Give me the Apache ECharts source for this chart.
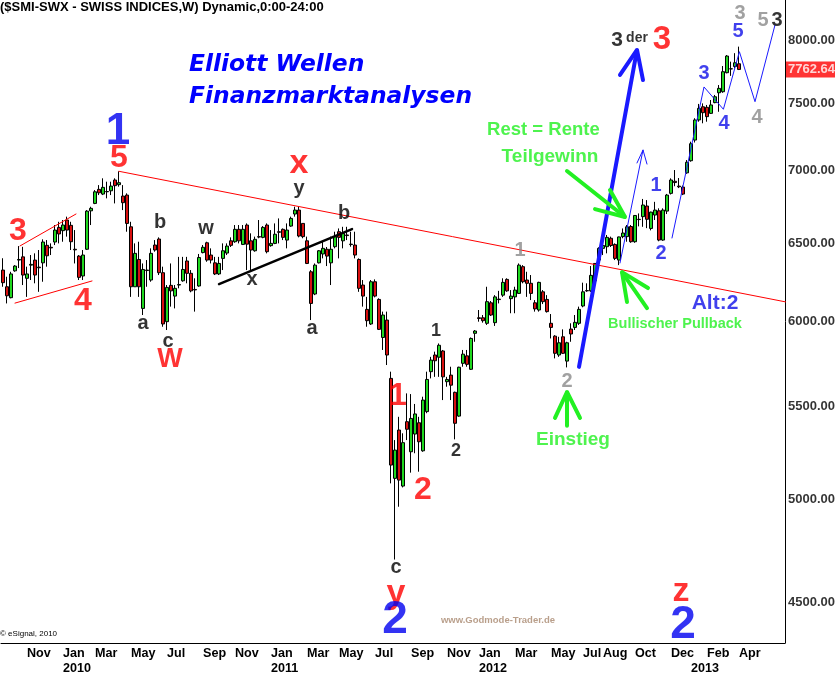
<!DOCTYPE html>
<html><head><meta charset="utf-8">
<script src="https://cdn.jsdelivr.net/npm/echarts@6/dist/echarts.min.js"></script>
<style>html,body{margin:0;padding:0;background:#fff}#c{width:835px;height:675px}</style>
</head><body><div id="c"></div>
<script>
// ---- data ----
const startDate = '2009-09-21';
const weekCount = 196;
const opens = [6323,6216,6147,6318,6388,6409,6270,6355,6388,6342,6370,6485,6472,6507,6605,6583,6655,6619,6459,6414,6285,6459,6718,6769,6867,6834,6850,6857,6933,6900,
6820,6827,6609,6216,6392,6080,6323,6259,6487,6527,6306,5998,6225,6157,6227,6254,6382,6302,6199,6221,6437,6502,6421,6370,6298,6399,6434,6515,6509,6592,
6491,6621,6515,6449,6543,6538,6621,6483,6498,6576,6592,6520,6614,6696,6723,6632,6515,6312,6170,6370,6428,6459,6370,6476,6576,6515,6554,6493,6487,6392,
6227,6074,5984,6248,6136,5902,6008,5660,5110,5369,5070,5415,5251,5347,5409,5256,5471,5699,5797,5784,5821,5641,5679,5580,5446,5748,5792,5713,5927,6022,
6022,5988,6115,5992,6138,6163,6263,6141,6152,6174,6345,6259,6238,6115,6070,6184,6136,5988,5910,5797,5906,5761,5953,5963,5988,6095,6190,6190,6254,6388,
6465,6476,6532,6491,6388,6543,6543,6611,6509,6660,6678,6751,6598,6689,6718,6520,6716,6839,6924,6890,6883,6984,7071,7222,7372,7472,7468,7422,7504,7580,
7588,7737,7767,7786,7808];
const highs = [6400,6280,6312,6355,6480,6475,6345,6421,6432,6454,6525,6520,6498,6621,6643,6655,6678,6643,6587,6421,6454,6723,6746,6862,6897,6945,6921,6921,6945,6995,
6897,6839,6643,6498,6509,6366,6388,6465,6520,6538,6345,6227,6366,6227,6409,6409,6409,6323,6270,6428,6487,6509,6465,6409,6409,6498,6498,6538,6621,6621,
6621,6632,6565,6543,6655,6614,6632,6587,6632,6666,6598,6632,6678,6746,6746,6632,6543,6323,6366,6454,6515,6474,6543,6576,6598,6609,6609,6576,6576,6399,
6259,6152,6259,6263,6143,6060,6060,5699,5314,5442,5351,5574,5570,5514,5442,5555,5699,5786,5817,5866,5827,5669,5728,5584,5728,5827,5827,5902,5947,6070,
6039,6216,6126,6163,6190,6270,6270,6195,6216,6366,6355,6312,6291,6132,6248,6195,6163,6045,5916,5906,5951,5876,5988,6039,6091,6242,6238,6349,6366,6472,
6520,6554,6543,6498,6543,6598,6621,6621,6689,6700,6800,6792,6712,6780,6735,6735,6835,6945,7004,6947,6894,7076,7210,7385,7494,7498,7486,7524,7563,7640,
7790,7878,7825,7893,7946];
const lows = [6216,6111,6143,6312,6336,6227,6152,6259,6238,6184,6248,6345,6421,6487,6498,6509,6543,6454,6366,6259,6259,6454,6621,6764,6827,6827,6804,6827,6769,6886,
6723,6576,6152,6216,6152,6039,6216,6248,6443,6291,5967,5947,6091,6080,6206,6248,6238,6181,6060,6216,6432,6377,6366,6291,6291,6323,6421,6474,6502,6498,
6487,6323,6323,6443,6532,6532,6432,6476,6493,6498,6520,6465,6609,6678,6538,6532,6362,6008,6163,6366,6399,6349,6227,6465,6399,6465,6520,6476,6399,6184,
6091,5967,5978,6149,5947,5827,5738,5084,4703,4964,5063,5314,5140,5243,5145,5251,5462,5660,5669,5669,5536,5612,5536,5318,5442,5728,5728,5709,5876,5998,
5992,5978,6033,5972,6111,6152,6184,6050,6050,6170,6238,6152,6132,6060,6060,6107,6054,5896,5777,5786,5803,5724,5876,5947,5978,6087,6184,6184,6248,6375,
6421,6432,6474,6388,6355,6532,6509,6502,6502,6612,6609,6600,6585,6655,6512,6515,6696,6831,6889,6876,6827,6977,7064,7204,7359,7347,7359,7417,7499,7434,
7580,7732,7712,7772,7758];
const closes = [6242,6159,6298,6349,6392,6291,6298,6360,6291,6338,6507,6416,6468,6587,6561,6621,6587,6509,6455,6276,6421,6716,6735,6850,6843,6881,6852,6890,6893,6914,
6774,6632,6216,6432,6216,6327,6320,6432,6454,6306,5984,6212,6190,6206,6230,6327,6302,6190,6196,6405,6472,6388,6388,6298,6366,6449,6480,6485,6592,6515,
6592,6493,6454,6525,6540,6605,6443,6498,6559,6572,6538,6587,6666,6723,6547,6543,6366,6111,6355,6449,6465,6414,6459,6543,6538,6565,6550,6490,6421,6206,
6157,6004,6248,6157,5951,6039,5797,5180,5260,5101,5300,5373,5433,5458,5305,5536,5654,5767,5763,5855,5669,5654,5621,5406,5725,5802,5742,5896,5941,6018,
6004,6122,6039,6152,6135,6244,6190,6157,6195,6355,6248,6238,6174,6077,6244,6122,6060,5963,5807,5870,5807,5870,5923,5994,6074,6184,6192,6289,6366,6465,
6484,6538,6484,6399,6541,6567,6609,6509,6686,6658,6758,6660,6709,6723,6520,6723,6827,6933,6915,6885,6834,7060,7195,7372,7460,7427,7397,7486,7549,7614,
7745,7870,7768,7816,7762.649];
const lastPrice = 7762.649;
const priceTicks = [4500,5000,5500,6000,6500,7000,7500,8000];
// month tick labels: [week start date, month text, year text]
const tickLabels = [
 ['2009-11-02','Nov',''],['2010-01-04','Jan','2010'],['2010-03-01','Mar',''],['2010-05-03','May',''],
 ['2010-07-05','Jul',''],['2010-09-06','Sep',''],['2010-11-01','Nov',''],['2011-01-03','Jan','2011'],
 ['2011-03-07','Mar',''],['2011-05-02','May',''],['2011-07-04','Jul',''],['2011-09-05','Sep',''],
 ['2011-11-07','Nov',''],['2012-01-02','Jan','2012'],['2012-03-05','Mar',''],['2012-05-07','May',''],
 ['2012-07-02','Jul',''],['2012-08-06','Aug',''],['2012-10-01','Oct',''],['2012-12-03','Dec',''],
 ['2013-01-07','','2013'],['2013-02-04','Feb',''],['2013-04-01','Apr','']
];

// ---- annotations (week index, price) ----
const RED='#ff0000', BLUE='#0000f0', BLUE2='#1010e8', GRAY='#8a8a8a', GREEN='#22f022', BLACK='#000';
const annotations = [
 ['1',28.75,7282,44,BLUE],['5',29,7091,32,RED],['3',3.75,6581,32,RED],['4',20,6126,32,RED],
 ['a',35,5984,20,BLACK],['b',39.25,6635,20,BLACK],['c',41.25,5875,20,BLACK],['W',41.75,5768,27,RED],
 ['w',50.75,6600,20,BLACK],['x',62.25,6260,20,BLACK],['y',74,6876,20,BLACK],['x',74,7050,34,RED],
 ['b',85.25,6703,20,BLACK],['a',77.25,5955,20,BLACK],['1',98.75,5559,32,RED],['2',105,5049,32,RED],
 ['c',98.25,4665,20,BLACK],['y',98.25,4540,34,RED],['2',98,4421,46,BLUE],
 ['1',108.25,5941,18,BLACK],['2',113.25,5255,18,BLACK],['1',129.25,6448,20,GRAY],['2',141,5645,20,GRAY],
 ['Einstieg',142.5,5314,19,GREEN],['Rest = Rente',135.1,7297,18.5,GREEN],['Teilgewinn',136.75,7098,19,GREEN],
 ['Bullischer Pullback',168,5984,14.5,GREEN],['Alt:2',178,6113,21,BLUE2],
 ['3',153.5,8000,21,BLACK],['der',158.5,8016,14,BLACK],['3',164.75,8000,33,RED],
 ['1',163.25,6891,20,BLUE2],['2',164.5,6428,20,BLUE2],['3',175.25,7727,20,BLUE2],['4',180.25,7349,20,BLUE2],['5',183.75,8066,20,BLUE2],
 ['3',184.25,8224,20,GRAY],['4',188.5,7394,20,GRAY],['5',190,8165,20,GRAY],['3',193.5,8165,20,BLACK],
 ['z',169.5,4550,34,RED],['2',170,4399,46,BLUE],
 ['www.Godmode-Trader.de',123.75,4421,9.5,'#a8876e']
];
// ---- drawn lines (week index, price) ----
const drawnLines = [
 {c:'#ff0000', w:1, p:[[29,6995],[195.75,6120]]},
 {c:'#ff0000', w:1, p:[[4.25,6481],[18.25,6696]]},
 {c:'#ff0000', w:1, p:[[3,6113],[22.25,6253]]},
 {c:'#000000', w:2.5, p:[[54,6233],[87.25,6594]]},
 {c:'#1a1aff', w:4, p:[[144,5727],[158.5,7919]]},
 {c:'#1a1aff', w:4, p:[[154.25,7719],[158.5,7919],[160,7679]]},
 {c:'#1a1aff', w:1, p:[[154.25,6369],[160,7149]]},
 {c:'#1a1aff', w:1, p:[[158.5,7055],[160,7149],[161,7047]]},
 {c:'#1a1aff', w:1, p:[[167.25,6534],[175.25,7625],[180.1,7453],[184.1,7905],[188,7511],[193,8124]]},
 {c:GREEN, w:4, p:[[141,6997],[155.5,6676]]},
 {c:GREEN, w:4, p:[[151.75,6862],[155.5,6676],[148,6730]]},
 {c:GREEN, w:4, p:[[154.75,6310],[161,6082]]},
 {c:GREEN, w:4, p:[[161.25,6208],[154.75,6310],[156,6120]]},
 {c:GREEN, w:4, p:[[141,5582],[141,5392]]},
 {c:GREEN, w:4, p:[[138,5436],[141,5582],[144.25,5436]]}
];

// ---- build ----
const cats = [];
const t0 = Date.parse(startDate + 'T00:00:00Z');
for (let i = 0; i < weekCount; i++) cats.push(new Date(t0 + i * 7 * 86400000).toISOString().slice(0, 10));
const tickMap = {};
tickLabels.forEach(t => { tickMap[t[0]] = t; });
const candleData = opens.map((o, i) => [o, closes[i], lows[i], highs[i]]);
const xEdge = weekCount - 0.5;

const FONT = '"Liberation Sans", Arial, sans-serif';
const series = [{
  type: 'candlestick', xAxisIndex: 0, yAxisIndex: 0, data: candleData, barWidth: 3,
  itemStyle: { color: '#1fd81f', color0: '#d81010', borderColor: '#000', borderColor0: '#000', borderWidth: 1 }
}];
drawnLines.forEach(l => series.push({
  type: 'line', xAxisIndex: 1, yAxisIndex: 0, data: l.p, showSymbol: false, symbol: 'none', silent: true,
  lineStyle: { color: l.c, width: l.w, cap: 'round' }, z: 3, animation: false
}));
// right-hand price scale labels and last price tag
series.push({
  type: 'scatter', xAxisIndex: 1, yAxisIndex: 0, symbolSize: 0, silent: true, z: 6, clip: false,
  data: priceTicks.map(v => ({ value: [xEdge, v], label: { formatter: v.toFixed(2) } })).concat([
    { value: [xEdge, lastPrice], label: { formatter: String(lastPrice), color: '#fff', backgroundColor: '#ff0000', padding: [2, 3, 1, 2], distance: 1 } }
  ]),
  label: { show: true, position: 'right', distance: 3, fontFamily: FONT, fontWeight: 'bold', fontSize: 13, color: '#000' }
});
series.push({
  type: 'scatter', xAxisIndex: 1, yAxisIndex: 0, symbolSize: 0, silent: true, z: 5, clip: false,
  data: annotations.map(a => ({
    value: [a[1], a[2]],
    label: { show: true, position: 'inside', formatter: a[0], fontSize: a[3], color: a[4], fontWeight: 'bold', fontFamily: FONT }
  }))
});

const chart = echarts.init(document.getElementById('c'), null, { renderer: 'canvas' });
chart.setOption({
  animation: false,
  backgroundColor: '#fff',
  grid: { left: 1, right: 50, top: 0, bottom: 32, containLabel: false },
  xAxis: [{
    type: 'category', data: cats, boundaryGap: true,
    axisLine: { show: true, onZero: false, lineStyle: { color: '#000', width: 1 } },
    axisTick: { show: false },
    axisLabel: {
      interval: (idx, val) => !!tickMap[val], align: 'left', margin: 3,
      formatter: (val) => { const t = tickMap[val]; if (!t) return ''; return t[2] ? '{m|' + (t[1] || ' ') + '}\n{y|' + t[2] + '}' : '{m|' + t[1] + '}'; },
      rich: { m: { fontFamily: FONT, fontWeight: 'bold', fontSize: 12.6, lineHeight: 15, color: '#000' },
              y: { fontFamily: FONT, fontWeight: 'bold', fontSize: 12.6, lineHeight: 15, color: '#000' } }
    },
    splitLine: { show: false }
  }, {
    type: 'value', min: -0.5, max: xEdge, show: false,
    axisLine: { onZero: false }
  }],
  yAxis: [{
    type: 'log', logBase: 10, min: 4318.3, max: 8334.1, position: 'right',
    axisLine: { show: true, onZero: false, lineStyle: { color: '#000' } },
    axisTick: { show: false }, axisLabel: { show: false }, splitLine: { show: false }, minorSplitLine: { show: false }
  }],
  graphic: [
    { type: 'text', left: 0, top: 1, z: 10, style: { text: '($SMI-SWX - SWISS INDICES,W) Dynamic,0:00-24:00', fontFamily: FONT, fontWeight: 'bold', fontSize: 13, fill: '#000' } },
    { type: 'text', left: 189, top: 53, z: 10, style: { text: 'Elliott Wellen', fontFamily: '"DejaVu Sans"', fontWeight: 'bold', fontStyle: 'italic', fontSize: 23.4, fill: '#0000ff' } },
    { type: 'text', left: 189, top: 85, z: 10, style: { text: 'Finanzmarktanalysen', fontFamily: '"DejaVu Sans"', fontWeight: 'bold', fontStyle: 'italic', fontSize: 23.4, fill: '#0000ff' } },
    { type: 'text', left: 0, top: 630, z: 10, style: { text: '\u00a9 eSignal, 2010', fontFamily: FONT, fontSize: 8, fill: '#000' } }
  ],
  series: series
});
</script></body></html>
